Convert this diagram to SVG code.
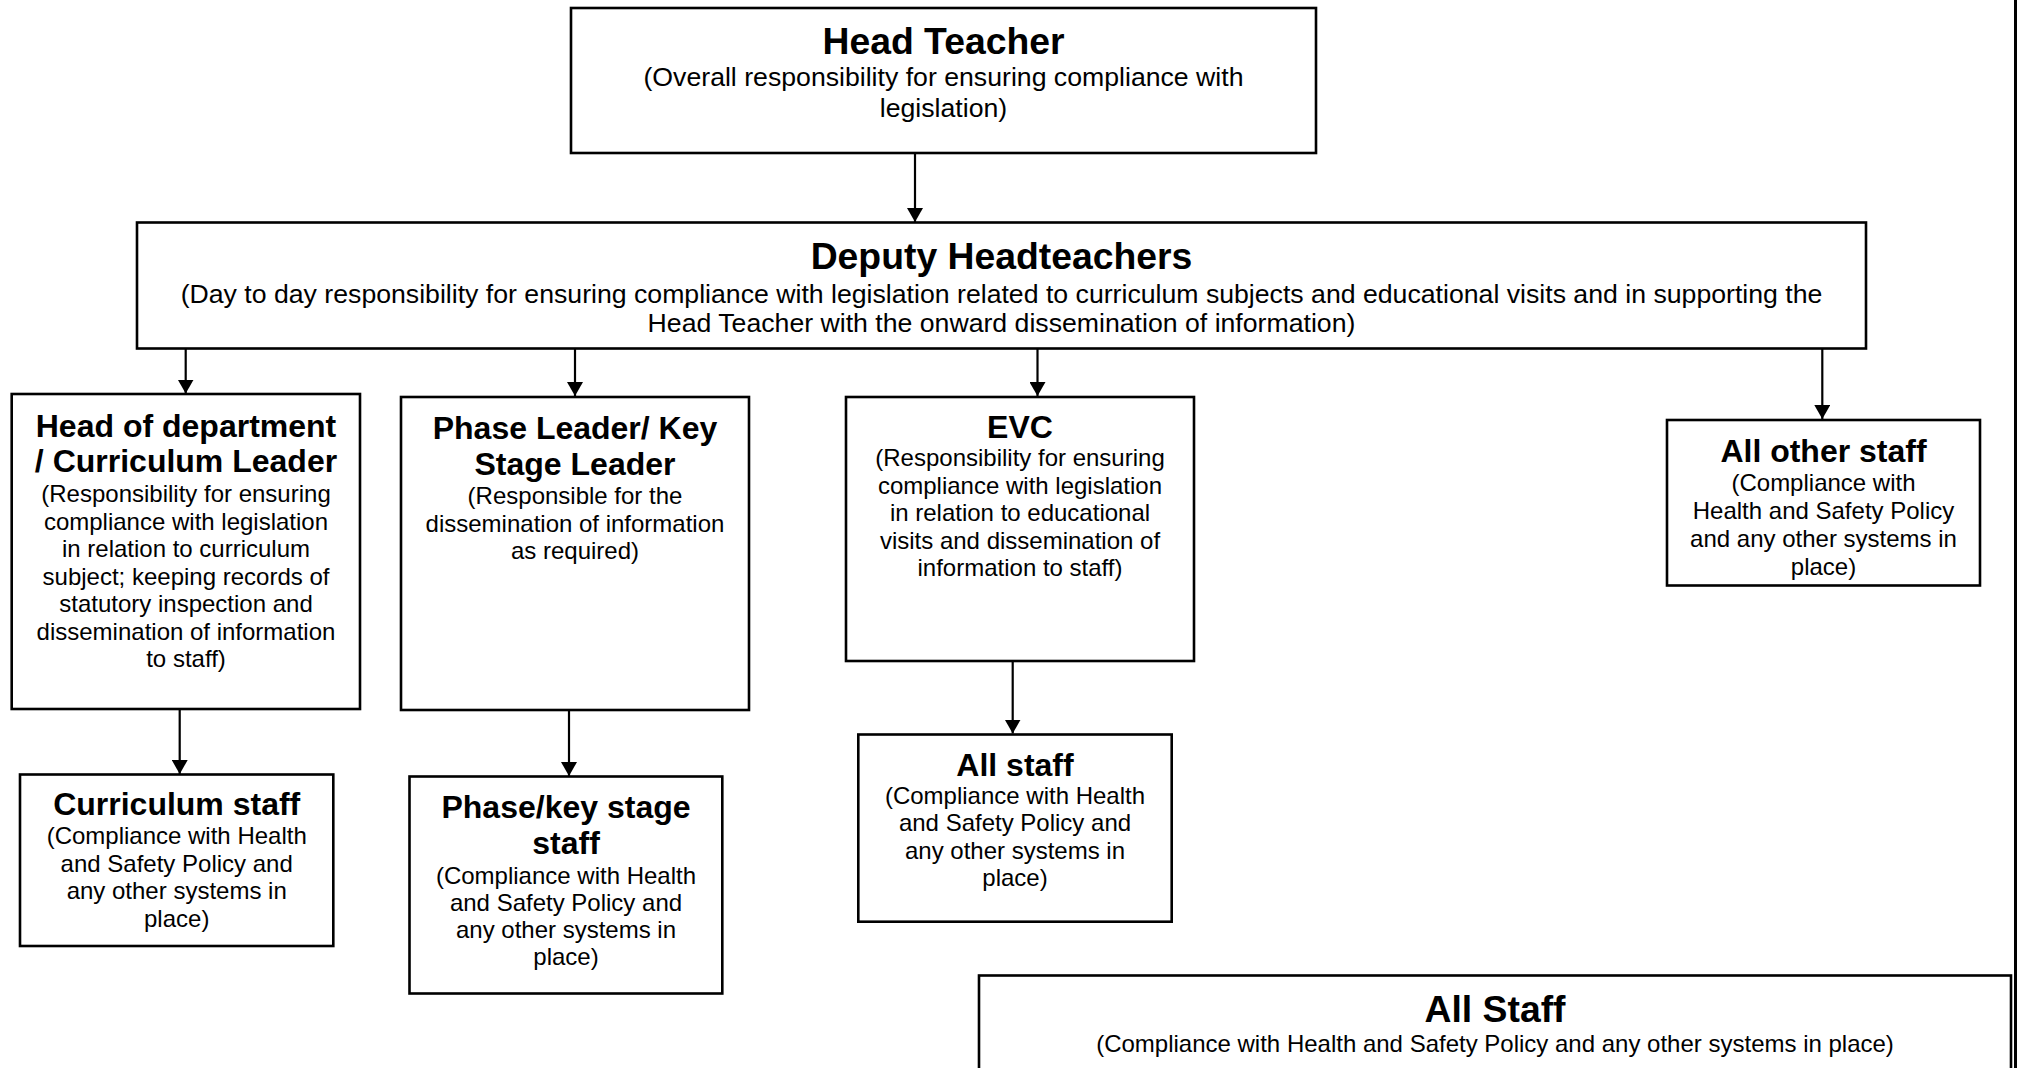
<svg xmlns="http://www.w3.org/2000/svg" width="2018" height="1068" viewBox="0 0 2018 1068">
  <style>
    .box { fill: #ffffff; stroke: #000000; stroke-width: 2.6; }
    .edge { stroke: #000000; stroke-width: 2.2; fill: none; marker-end: url(#arrow); }
    text { font-family: "Liberation Sans", Arial, sans-serif; fill: #000000; text-anchor: middle; }
    .t1 { font-size: 37.33px; font-weight: bold; }
    .s1 { font-size: 26.67px; }
    .t2 { font-size: 32px; font-weight: bold; }
    .s2 { font-size: 24px; }
  </style>
  <defs>
    <marker id="arrow" viewBox="0 0 14 16" refX="14" refY="8" markerWidth="14" markerHeight="16" markerUnits="userSpaceOnUse" orient="auto">
      <path d="M0,0 L14,8 L0,16 Z" fill="#000000"/>
    </marker>
    <clipPath id="clipOther">
      <rect x="1667" y="420" width="313" height="161"/>
    </clipPath>
  </defs>
  <rect x="0" y="0" width="2018" height="1068" fill="#ffffff"/>

  <g id="connectors">
    <line class="edge" x1="915" y1="153" x2="915" y2="222"/>
    <line class="edge" x1="185.7" y1="348" x2="185.7" y2="393.5"/>
    <line class="edge" x1="575" y1="348" x2="575" y2="396"/>
    <line class="edge" x1="1037.5" y1="348" x2="1037.5" y2="396"/>
    <line class="edge" x1="1822.3" y1="345" x2="1822.3" y2="419"/>
    <line class="edge" x1="179.7" y1="705" x2="179.7" y2="774"/>
    <line class="edge" x1="569" y1="707" x2="569" y2="776"/>
    <line class="edge" x1="1012.7" y1="660" x2="1012.7" y2="733.5"/>
  </g>

  <g id="head-teacher">
    <rect class="box" x="571" y="8" width="745" height="145"/>
    <text class="t1" x="943.5" y="54">Head Teacher</text>
    <text class="s1" x="943.5" y="86">(Overall responsibility for ensuring compliance with</text>
    <text class="s1" x="943.5" y="117">legislation)</text>
  </g>

  <g id="deputy-headteachers">
    <rect class="box" x="137" y="222.5" width="1729" height="126"/>
    <text class="t1" x="1001.5" y="269">Deputy Headteachers</text>
    <text class="s1" x="1001.5" y="302.5">(Day to day responsibility for ensuring compliance with legislation related to curriculum subjects and educational visits and in supporting the</text>
    <text class="s1" x="1001.5" y="332">Head Teacher with the onward dissemination of information)</text>
  </g>

  <g id="head-of-department">
    <rect class="box" x="11.7" y="394" width="348.3" height="315"/>
    <text class="t2" x="186" y="437">Head of department</text>
    <text class="t2" x="186" y="472">/ Curriculum Leader</text>
    <text class="s2" x="186" y="502">(Responsibility for ensuring</text>
    <text class="s2" x="186" y="529.5">compliance with legislation</text>
    <text class="s2" x="186" y="557">in relation to curriculum</text>
    <text class="s2" x="186" y="584.5">subject; keeping records of</text>
    <text class="s2" x="186" y="612">statutory inspection and</text>
    <text class="s2" x="186" y="639.5">dissemination of information</text>
    <text class="s2" x="186" y="667">to staff)</text>
  </g>

  <g id="phase-leader">
    <rect class="box" x="401" y="397" width="348" height="313"/>
    <text class="t2" x="575" y="439">Phase Leader/ Key</text>
    <text class="t2" x="575" y="475">Stage Leader</text>
    <text class="s2" x="575" y="504">(Responsible for the</text>
    <text class="s2" x="575" y="531.5">dissemination of information</text>
    <text class="s2" x="575" y="559">as required)</text>
  </g>

  <g id="evc">
    <rect class="box" x="846" y="397" width="348" height="264"/>
    <text class="t2" x="1020" y="437.6">EVC</text>
    <text class="s2" x="1020" y="466.3">(Responsibility for ensuring</text>
    <text class="s2" x="1020" y="493.8">compliance with legislation</text>
    <text class="s2" x="1020" y="521.3">in relation to educational</text>
    <text class="s2" x="1020" y="548.8">visits and dissemination of</text>
    <text class="s2" x="1020" y="576.3">information to staff)</text>
  </g>

  <g id="all-other-staff">
    <rect class="box" x="1667" y="420" width="313" height="165.5"/>
    <g clip-path="url(#clipOther)">
      <text class="t2" x="1823.5" y="462">All other staff</text>
      <text class="s2" x="1823.5" y="491">(Compliance with</text>
      <text class="s2" x="1823.5" y="519">Health and Safety Policy</text>
      <text class="s2" x="1823.5" y="546.7">and any other systems in</text>
      <text class="s2" x="1823.5" y="575">place)</text>
    </g>
  </g>

  <g id="curriculum-staff">
    <rect class="box" x="20" y="774.5" width="313.3" height="171.5"/>
    <text class="t2" x="176.7" y="815">Curriculum staff</text>
    <text class="s2" x="176.7" y="844.3">(Compliance with Health</text>
    <text class="s2" x="176.7" y="871.8">and Safety Policy and</text>
    <text class="s2" x="176.7" y="899.3">any other systems in</text>
    <text class="s2" x="176.7" y="926.8">place)</text>
  </g>

  <g id="phase-key-stage-staff">
    <rect class="box" x="409.5" y="776.5" width="312.8" height="217"/>
    <text class="t2" x="566" y="817.7">Phase/key stage</text>
    <text class="t2" x="566" y="854">staff</text>
    <text class="s2" x="566" y="884">(Compliance with Health</text>
    <text class="s2" x="566" y="911">and Safety Policy and</text>
    <text class="s2" x="566" y="938">any other systems in</text>
    <text class="s2" x="566" y="965">place)</text>
  </g>

  <g id="all-staff-evc">
    <rect class="box" x="858.3" y="734.5" width="313.4" height="187.2"/>
    <text class="t2" x="1015" y="775.5">All staff</text>
    <text class="s2" x="1015" y="803.8">(Compliance with Health</text>
    <text class="s2" x="1015" y="831.3">and Safety Policy and</text>
    <text class="s2" x="1015" y="858.8">any other systems in</text>
    <text class="s2" x="1015" y="886.3">place)</text>
  </g>

  <g id="all-staff">
    <rect class="box" x="979" y="975.5" width="1032" height="200"/>
    <text class="t1" x="1495" y="1021.5">All Staff</text>
    <text class="s2" x="1495" y="1051.7">(Compliance with Health and Safety Policy and any other systems in place)</text>
  </g>

  <line x1="2015.5" y1="0" x2="2015.5" y2="1068" stroke="#000000" stroke-width="3"/>
</svg>
